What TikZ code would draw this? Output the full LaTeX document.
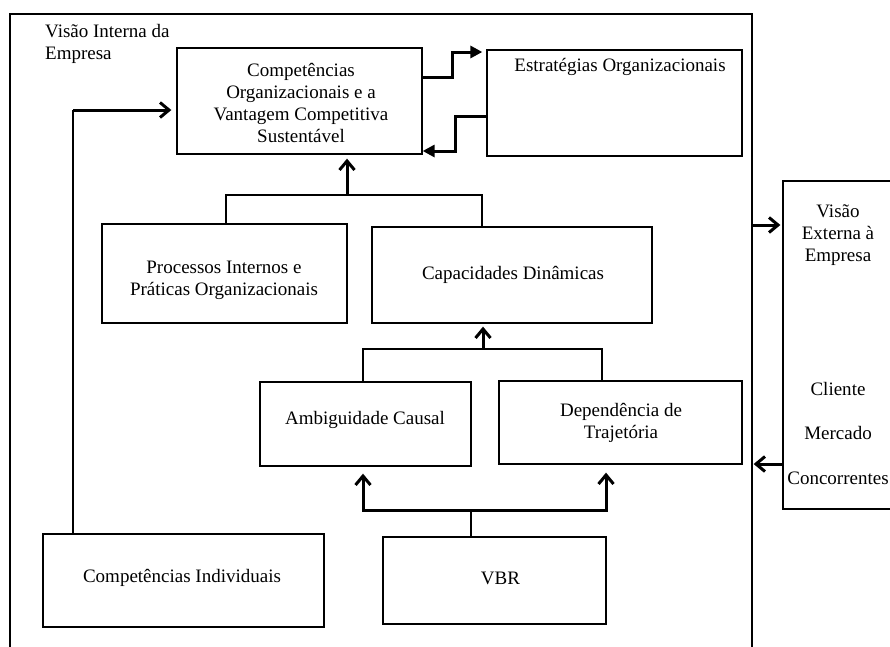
\documentclass[tikz,border=0pt]{standalone}
\usepackage{fontspec}
\setmainfont{Liberation Serif}
\usetikzlibrary{arrows.meta}
\tikzset{
  box/.style={draw, line width=1.3pt, inner sep=0pt},
  txt/.style={align=center, inner sep=0pt},
  thinline/.style={line width=1.3pt},
  thickline/.style={line width=3pt},
  barb/.style={thickline, -{Straight Barb[length=9pt,width=15pt]}},
  barbboth/.style={thickline, {Straight Barb[length=9pt,width=15pt]}-{Straight Barb[length=9pt,width=15pt]}},
  tri/.style={thickline, -{Triangle[length=12pt,width=12pt]}},
}
\begin{document}
\begin{tikzpicture}[x=1pt,y=-1pt,font=\fontsize{19}{22}\selectfont]
\useasboundingbox (0,0) rectangle (890,646);
\begin{scope}
  \clip (0,0) rectangle (890,646);
  \node[box, minimum width=742pt, minimum height=686pt] (frame) at (381,357) {};
  \node[box, minimum width=200pt, minimum height=328pt] (X) at (883,345) {};
\end{scope}

% boxes
\node[box, minimum width=245pt, minimum height=106pt] (A) at (299.5,101) {};
\node[box, minimum width=255pt, minimum height=106pt] (E) at (614.5,103) {};
\node[box, minimum width=245pt, minimum height=99pt] (P) at (224.5,273.5) {};
\node[box, minimum width=280pt, minimum height=96pt] (C) at (512,275) {};
\node[box, minimum width=211pt, minimum height=84pt] (Am) at (365.5,424) {};
\node[box, minimum width=243pt, minimum height=83pt] (D) at (620.5,422.5) {};
\node[box, minimum width=281pt, minimum height=93pt] (CI) at (183.5,580.5) {};
\node[box, minimum width=223pt, minimum height=87pt] (VBR) at (494.5,580.5) {};

% texts
\node[txt, align=left, anchor=west] (tI) at (45,44) {Visão Interna da\\Empresa};
\node[txt] (tA) at (301,103) {Competências\\Organizacionais e a\\Vantagem Competitiva\\Sustentável};
\node[txt] (tE) at (620,67) {Estratégias Organizacionais};
\node[txt] (tP) at (224,280) {Processos Internos e\\Práticas Organizacionais};
\node[txt] (tC) at (513,275) {Capacidades Dinâmicas};
\node[txt] (tAm) at (365,420) {Ambiguidade Causal};
\node[txt] (tD) at (621,423) {Dependência de\\Trajetória};
\node[txt] (tCI) at (182,578) {Competências Individuais};
\node[txt] (tV) at (500.5,578) {VBR};
\node[txt] (tX) at (838,235) {Visão\\Externa à\\Empresa};
\node[txt] (tX2) at (838,389) {Cliente};
\node[txt] (tX3) at (838,433) {Mercado};
\node[txt] (tX4) at (838,478) {Concorrentes};

% junction points
\coordinate (pA) at (226,195);
\coordinate (pC) at (482,195);
\coordinate (j1) at (347,195);
\coordinate (qA) at (363,349);
\coordinate (qD) at (602,349);
\coordinate (j2) at (483,349);
\coordinate (rA) at (363,510);
\coordinate (rD) at (606,510);
\coordinate (j3) at (471,510);
\coordinate (s) at (73,110);
\coordinate (t1) at (452,77);
\coordinate (t2) at (452,52);
\coordinate (u1) at (455,116);
\coordinate (u2) at (455,151);
\coordinate (v1) at (0,225);
\coordinate (v2) at (0,464);

% connectors
\draw[thinline] (pA |- P.north) -- (pA) -- (pC) -- (pC |- C.north);
\draw[barb, shorten >=4pt] (j1) -- (j1 |- A.south);
\draw[thinline] (qA |- Am.north) -- (qA) -- (qD) -- (qD |- D.north);
\draw[barb, shorten >=3pt] (j2) -- (j2 |- C.south);
\draw[thinline] (j3 |- VBR.north) -- (j3);
\draw[barbboth, shorten <=7pt, shorten >=8pt] (rA |- Am.south) -- (rA) -- (rD) -- (rD |- D.south);
\draw[thinline] (s |- CI.north) -- (s);
\draw[barb, shorten >=5pt] (s) -- (s -| A.west);
\draw[tri, shorten >=4pt] (t1 -| A.east) -- (t1) -- (t2) -- (t2 -| E.west);
\draw[tri] (u1 -| E.west) -- (u1) -- (u2) -- (u2 -| A.east);
\draw[barb, shorten >=2pt] (v1 -| frame.east) -- (v1 -| X.west);
\draw[barb, shorten >=1pt] (v2 -| X.west) -- (v2 -| frame.east);
\end{tikzpicture}
\end{document}
